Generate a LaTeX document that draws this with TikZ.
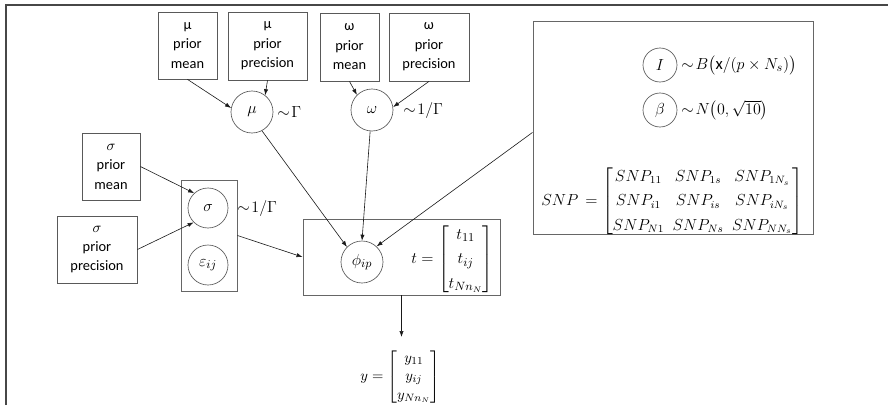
\documentclass[tikz,border=0pt]{standalone}
\usepackage{amsmath}
\usepackage{fontspec}
\setmainfont{Carlito}
\usetikzlibrary{arrows.meta}

\begin{document}
\begin{tikzpicture}[x=0.75pt,y=-0.75pt,
  prior/.style={draw=black!65, line width=0.6pt, align=center, inner sep=0pt,
                font=\fontsize{10.8}{14.6}\selectfont},
  rv/.style={circle, draw=black!65, line width=0.5pt, minimum size=31.5pt,
             inner sep=0pt, font=\fontsize{12.5}{14}\selectfont},
  smallrv/.style={rv, minimum size=25.5pt},
  plate/.style={draw=black!60, line width=0.7pt, inner sep=0pt},
  eq/.style={inner sep=0pt, font=\fontsize{12.5}{14}\selectfont},
  edge/.style={-{Latex[length=4.5pt,width=3.2pt]}, line width=0.45pt, black!90}]

\useasboundingbox (0,0) rectangle (888,405);

% outer frame (top and left rules)
\draw[black!72, line width=0.9pt] (6,405) -- (6,5) -- (888,5);

% prior boxes
\node[prior, minimum width=44.25pt, minimum height=50.25pt] (mupm) at (187.5,45.5) {μ\\prior\\mean};
\node[prior, minimum width=59.25pt, minimum height=51pt] (mupp) at (267.5,46) {μ\\prior\\precision};
\node[prior, minimum width=44.25pt, minimum height=51pt] (ompm) at (349.5,47) {ω\\prior\\mean};
\node[prior, minimum width=60pt, minimum height=51pt] (ompp) at (429,47) {ω\\prior\\precision};
\node[prior, minimum width=43.5pt, minimum height=50.25pt] (sipm) at (111,166.5) {$\sigma$\\prior\\mean};
\node[prior, minimum width=60pt, minimum height=50.25pt] (sipp) at (97,249.5) {$\sigma$\\prior\\precision};

% plates
\node[plate, minimum width=42pt, minimum height=83.25pt] (splate) at (209,235.5) {};
\node[plate, minimum width=147.75pt, minimum height=57pt] (pbox) at (401.5,257) {};
\node[plate, minimum width=210pt, minimum height=159.75pt] (rbox) at (673,127.5) {};

% random variables
\node[rv] (mu) at (252,112) {$\mu$};
\node[rv] (om) at (372,110) {$\omega$};
\node[rv, minimum size=30pt] (si) at (208,208) {$\sigma$};
\node[rv, minimum size=30pt] (eps) at (208,265) {$\varepsilon_{ij}$};
\node[rv] (phi) at (362,262) {$\phi_{ip}$};
\node[smallrv] (I) at (660,65) {$I$};
\node[smallrv] (beta) at (660,110) {$\beta$};

% distributions and data
\node[eq, anchor=west] (mulab) at (277,112) {$\sim\!\Gamma$};
\node[eq, anchor=west] (omlab) at (403,110) {$\sim\!1/\Gamma$};
\node[eq, anchor=west] (silab) at (237,208) {$\sim\!1/\Gamma$};
\node[eq, anchor=west] (Ilab) at (681,65) {$\sim\! B\bigl(\mathrm{x}/(p\times N_s)\bigr)$};
\node[eq, anchor=west] (blab) at (681,110) {$\sim\! N\bigl(0,\sqrt{10}\bigr)$};
\node[eq, anchor=west, font=\fontsize{11.6}{13.5}\selectfont] (snp) at (541,201)
  {\setlength{\arraycolsep}{3.2pt}\renewcommand{\arraystretch}{1.35}%
   $SNP\,=\begin{bmatrix}
    SNP_{11} & SNP_{1s} & SNP_{1N_s}\\
    SNP_{i1} & SNP_{is} & SNP_{iN_s}\\
    SNP_{N1} & SNP_{Ns} & SNP_{NN_s}\end{bmatrix}$};
\node[eq, anchor=west] (tvec) at (411,259)
  {\renewcommand{\arraystretch}{1.3}$t = \begin{bmatrix} t_{11}\\ t_{ij}\\ t_{Nn_N}\end{bmatrix}$};
\node[eq, anchor=west, font=\fontsize{11}{12.5}\selectfont] (yvec) at (360,377)
  {\renewcommand{\arraystretch}{1.1}$y = \begin{bmatrix} y_{11}\\ y_{ij}\\ y_{Nn_N}\end{bmatrix}$};
\coordinate (ytop) at (401.5,337);

% connectors
\draw[edge] (mupm.south) -- (mu.169);
\draw[edge] (mupp.south) -- (mu.52);
\draw[edge] (ompm.south) -- (om.135);
\draw[edge] (ompp.south) -- (om.8);
\draw[edge] (sipm.east) -- (si.133);
\draw[edge] (sipp.east) -- (si.225);
\draw[edge] (splate.east) -- (pbox.west);
\draw[edge] (mu.-62) -- (phi.135);
\draw[edge] (om.-95) -- (phi.north);
\draw[edge] (rbox.182) -- (phi.47);
\draw[edge] (pbox.south) -- (ytop);
\end{tikzpicture}
\end{document}
